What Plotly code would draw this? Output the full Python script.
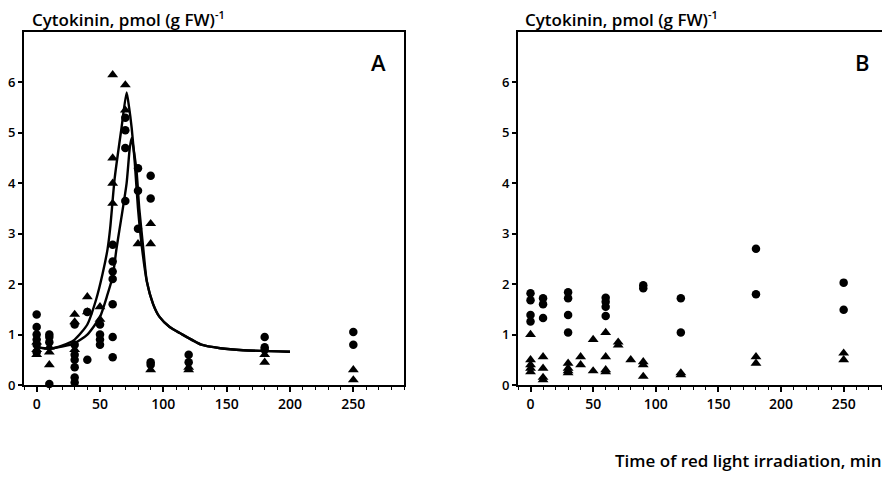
import plotly.graph_objects as go

# ---------------- data: panel A ----------------
a_circle_time = [0, 0, 0, 0, 0, 0,
                 10, 10, 10, 10,
                 30, 30, 30, 30, 30, 30, 30,
                 40, 40,
                 50, 50, 50, 50,
                 60, 60, 60, 60, 60, 60, 60,
                 70, 70, 70, 70,
                 80, 80, 80,
                 90, 90, 90, 90,
                 120, 120,
                 180, 180, 180,
                 250, 250]
a_circle_val = [1.4, 1.15, 1.0, 0.9, 0.8, 0.65,
                1.0, 0.95, 0.85, 0.02,
                1.2, 0.8, 0.6, 0.5, 0.35, 0.15, 0.05,
                1.45, 0.5,
                1.2, 1.0, 0.9, 0.8,
                2.78, 2.45, 2.25, 2.1, 1.6, 0.95, 0.55,
                5.3, 5.05, 4.7, 3.65,
                4.3, 3.85, 3.1,
                4.15, 3.7, 0.45, 0.4,
                0.6, 0.45,
                0.95, 0.75, 0.7,
                1.05, 0.8]

a_tri_time = [0, 0, 0,
              10, 10, 10,
              30, 30, 30,
              40, 40,
              50, 50,
              60, 60, 60, 60,
              70, 70,
              80,
              90, 90, 90,
              120, 120,
              180, 180,
              250, 250]
a_tri_val = [0.85, 0.7, 0.6,
             0.75, 0.65, 0.4,
             1.4, 1.25, 0.7,
             1.75, 1.45,
             1.55, 1.3,
             6.15, 4.5, 4.0, 3.6,
             5.95, 5.45,
             2.8,
             3.2, 2.8, 0.3,
             0.35, 0.3,
             0.6, 0.45,
             0.3, 0.1]

# fitted curves
curve1_time = [0, 10, 20, 30, 40, 47, 52, 56, 58, 61.6, 67, 71, 73, 75, 77.5, 80, 83, 87, 92, 97, 105, 113, 130, 145, 163, 200]
curve1_val = [0.75, 0.72, 0.78, 0.9, 1.2, 1.7, 2.2, 2.7, 3.1, 4.1, 5.1, 5.8, 5.5, 5.1, 4.4, 3.5, 2.75, 2.05, 1.6, 1.35, 1.15, 1.03, 0.8, 0.73, 0.69, 0.66]
curve2_time = [0, 10, 20, 30, 40, 50, 56, 60, 63, 65.5, 71, 73.5, 75, 77, 79, 81, 84, 87, 92, 97, 105, 113, 130, 145, 163, 200]
curve2_val = [0.75, 0.72, 0.76, 0.83, 1.0, 1.35, 1.8, 2.15, 2.7, 3.1, 4.0, 4.7, 4.9, 4.6, 4.2, 3.5, 2.75, 2.05, 1.6, 1.35, 1.15, 1.03, 0.8, 0.73, 0.69, 0.66]

# ---------------- data: panel B ----------------
b_circle_time = [0, 0, 0, 0,
                 10, 10, 10,
                 30, 30, 30, 30,
                 60, 60, 60, 60,
                 90, 90,
                 120, 120,
                 180, 180,
                 250, 250]
b_circle_val = [1.82, 1.68, 1.39, 1.26,
                1.72, 1.6, 1.33,
                1.84, 1.72, 1.39, 1.04,
                1.73, 1.65, 1.55, 1.37,
                1.98, 1.92,
                1.72, 1.04,
                2.7, 1.8,
                2.03, 1.49]

b_tri_time = [0, 0, 0, 0, 0,
              10, 10, 10, 10,
              30, 30, 30, 30,
              40, 40,
              50, 50,
              60, 60, 60, 60,
              70, 70,
              80,
              90, 90, 90,
              120, 120,
              180, 180,
              250, 250]
b_tri_val = [1.0, 0.5, 0.4, 0.33, 0.26,
             0.56, 0.33, 0.15, 0.1,
             0.43, 0.33, 0.28, 0.24,
             0.56, 0.4,
             0.9, 0.28,
             1.04, 0.56, 0.3, 0.26,
             0.85, 0.79,
             0.5,
             0.46, 0.4, 0.17,
             0.24, 0.2,
             0.56, 0.43,
             0.63, 0.5]

x_ticks = [0, 50, 100, 150, 200, 250]
y_ticks = [0, 1, 2, 3, 4, 5, 6]

FONT = "Open Sans"
fig = go.Figure()

mk_c = dict(symbol="circle", size=8.5, color="black")
mk_t = dict(symbol="triangle-up", size=9.5, color="black")

fig.add_trace(go.Scatter(x=curve1_time, y=curve1_val, mode="lines", line=dict(color="black", width=2.4, shape="spline", smoothing=0.6), xaxis="x", yaxis="y"))
fig.add_trace(go.Scatter(x=curve2_time, y=curve2_val, mode="lines", line=dict(color="black", width=2.4, shape="spline", smoothing=0.6), xaxis="x", yaxis="y"))
fig.add_trace(go.Scatter(x=a_circle_time, y=a_circle_val, mode="markers", marker=mk_c, xaxis="x", yaxis="y", cliponaxis=False))
fig.add_trace(go.Scatter(x=a_tri_time, y=a_tri_val, mode="markers", marker=mk_t, xaxis="x", yaxis="y", cliponaxis=False))
fig.add_trace(go.Scatter(x=b_circle_time, y=b_circle_val, mode="markers", marker=mk_c, xaxis="x2", yaxis="y2", cliponaxis=False))
fig.add_trace(go.Scatter(x=b_tri_time, y=b_tri_val, mode="markers", marker=mk_t, xaxis="x2", yaxis="y2", cliponaxis=False))

# the page body adds an 8 px margin, so the figure is offset by 8 px
OFF = 8
W, H = 890 - OFF, 477 - OFF


def px(x):
    return (x - OFF) / W


def py(y):
    return (477 - y) / H


y_dom = [py(385), py(32)]

xcommon = dict(range=[-10, 290], tickvals=x_ticks, ticks="outside", ticklen=5, tickwidth=1.5,
               showline=True, linecolor="black", linewidth=2, showgrid=False, zeroline=False,
               tickfont=dict(family=FONT, size=14, color="black", weight=600),
               minor=dict(dtick=10, tick0=0, ticks="outside", ticklen=3, tickcolor="black", tickwidth=1),
               tickcolor="black", fixedrange=True)
ycommon = dict(range=[0, 7], tickvals=y_ticks, ticks="outside", ticklen=4, tickwidth=1.5,
               showline=True, linecolor="black", linewidth=2, showgrid=False, zeroline=False,
               tickfont=dict(family=FONT, size=13, color="black", weight=600),
               tickcolor="black", domain=y_dom, fixedrange=True)

title_txt = "Cytokinin, pmol (g FW)<sup><span style='font-size:11px'>-1</span></sup>"

fig.update_layout(
    width=W, height=H,
    margin=dict(l=0, r=0, t=0, b=0),
    paper_bgcolor="white", plot_bgcolor="white",
    showlegend=False,
    template="none",
    xaxis=dict(**xcommon, domain=[px(24), px(404)], anchor="y", mirror=True),
    yaxis=dict(**ycommon, anchor="x", mirror=True),
    xaxis2=dict(**{**xcommon, "range": [-10, 287]}, domain=[px(518), 1.0], anchor="y2", mirror=True),
    yaxis2=dict(**ycommon, anchor="x2", mirror=False),
    annotations=[
        dict(text=title_txt, x=px(30), y=py(19), xref="paper", yref="paper",
             xanchor="left", yanchor="middle", showarrow=False,
             font=dict(family=FONT, size=17, color="black", weight=600)),
        dict(text=title_txt, x=px(523), y=py(19), xref="paper", yref="paper",
             xanchor="left", yanchor="middle", showarrow=False,
             font=dict(family=FONT, size=17, color="black", weight=600)),
        dict(text="A", x=px(378), y=py(62), xref="paper", yref="paper",
             xanchor="center", yanchor="middle", showarrow=False,
             font=dict(family=FONT, size=22, color="black", weight=600)),
        dict(text="B", x=px(862), y=py(62), xref="paper", yref="paper",
             xanchor="center", yanchor="middle", showarrow=False,
             font=dict(family=FONT, size=22, color="black", weight=600)),
        dict(text="Time of red light irradiation, min", x=px(884), y=py(460), xref="paper", yref="paper",
             xanchor="right", yanchor="middle", showarrow=False,
             font=dict(family=FONT, size=17, color="black", weight=600)),
    ],
)

fig.write_html("out.html")
